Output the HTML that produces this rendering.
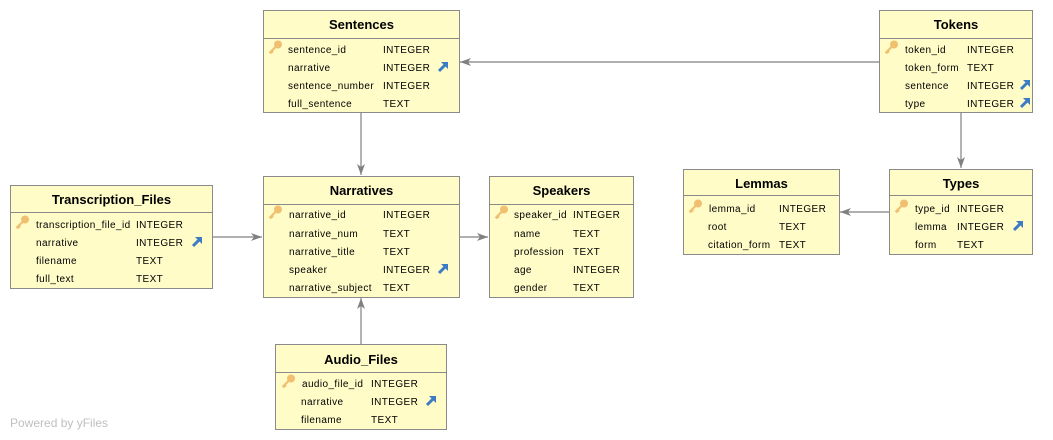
<!DOCTYPE html>
<html><head><meta charset="utf-8"><style>
body{margin:0;width:1053px;height:440px;background:#fff;position:relative;overflow:hidden;font-family:"Liberation Sans",sans-serif;}
.t{position:absolute;background:#fffcc8;border:1px solid #8a8a8a;box-sizing:border-box;}
.h{position:absolute;left:0;right:0;top:0;border-bottom:1px solid #8a8a8a;text-align:center;font-weight:bold;font-size:13px;color:#000;box-sizing:border-box;}
.r{position:absolute;font-size:10px;color:#000;white-space:nowrap;letter-spacing:0.4px;line-height:12px;margin-top:2px;}
.pw{position:absolute;left:10px;top:416px;font-size:12px;color:#c0c0c0;}
svg{z-index:2}
</style></head><body>

<div class="t" style="left:263px;top:10px;width:197px;height:103px"><div class="h" style="height:28px;line-height:28px">Sentences</div></div>
<div class="r" style="left:288px;top:43px">sentence_id</div><div class="r" style="left:383px;top:43px">INTEGER</div>
<div class="r" style="left:288px;top:61px">narrative</div><div class="r" style="left:383px;top:61px">INTEGER</div>
<div class="r" style="left:288px;top:79px">sentence_number</div><div class="r" style="left:383px;top:79px">INTEGER</div>
<div class="r" style="left:288px;top:97px">full_sentence</div><div class="r" style="left:383px;top:97px">TEXT</div>

<div class="t" style="left:879px;top:10px;width:154px;height:103px"><div class="h" style="height:28px;line-height:28px">Tokens</div></div>
<div class="r" style="left:905px;top:43px">token_id</div><div class="r" style="left:967px;top:43px">INTEGER</div>
<div class="r" style="left:905px;top:61px">token_form</div><div class="r" style="left:967px;top:61px">TEXT</div>
<div class="r" style="left:905px;top:79px">sentence</div><div class="r" style="left:967px;top:79px">INTEGER</div>
<div class="r" style="left:905px;top:97px">type</div><div class="r" style="left:967px;top:97px">INTEGER</div>

<div class="t" style="left:10px;top:185px;width:203px;height:104px"><div class="h" style="height:27px;line-height:27px">Transcription_Files</div></div>
<div class="r" style="left:36px;top:218px">transcription_file_id</div><div class="r" style="left:136px;top:218px">INTEGER</div>
<div class="r" style="left:36px;top:236px">narrative</div><div class="r" style="left:136px;top:236px">INTEGER</div>
<div class="r" style="left:36px;top:254px">filename</div><div class="r" style="left:136px;top:254px">TEXT</div>
<div class="r" style="left:36px;top:272px">full_text</div><div class="r" style="left:136px;top:272px">TEXT</div>

<div class="t" style="left:263px;top:176px;width:197px;height:122px"><div class="h" style="height:28px;line-height:28px">Narratives</div></div>
<div class="r" style="left:289px;top:208px">narrative_id</div><div class="r" style="left:383px;top:208px">INTEGER</div>
<div class="r" style="left:289px;top:227px">narrative_num</div><div class="r" style="left:383px;top:227px">TEXT</div>
<div class="r" style="left:289px;top:245px">narrative_title</div><div class="r" style="left:383px;top:245px">TEXT</div>
<div class="r" style="left:289px;top:263px">speaker</div><div class="r" style="left:383px;top:263px">INTEGER</div>
<div class="r" style="left:289px;top:281px">narrative_subject</div><div class="r" style="left:383px;top:281px">TEXT</div>

<div class="t" style="left:489px;top:176px;width:145px;height:122px"><div class="h" style="height:28px;line-height:28px">Speakers</div></div>
<div class="r" style="left:514px;top:208px">speaker_id</div><div class="r" style="left:573px;top:208px">INTEGER</div>
<div class="r" style="left:514px;top:227px">name</div><div class="r" style="left:573px;top:227px">TEXT</div>
<div class="r" style="left:514px;top:245px">profession</div><div class="r" style="left:573px;top:245px">TEXT</div>
<div class="r" style="left:514px;top:263px">age</div><div class="r" style="left:573px;top:263px">INTEGER</div>
<div class="r" style="left:514px;top:281px">gender</div><div class="r" style="left:573px;top:281px">TEXT</div>

<div class="t" style="left:683px;top:169px;width:157px;height:86px"><div class="h" style="height:26px;line-height:28px">Lemmas</div></div>
<div class="r" style="left:709px;top:202px">lemma_id</div><div class="r" style="left:779px;top:202px">INTEGER</div>
<div class="r" style="left:708px;top:220px">root</div><div class="r" style="left:779px;top:220px">TEXT</div>
<div class="r" style="left:708px;top:238px">citation_form</div><div class="r" style="left:779px;top:238px">TEXT</div>

<div class="t" style="left:889px;top:169px;width:144px;height:86px"><div class="h" style="height:26px;line-height:28px">Types</div></div>
<div class="r" style="left:915px;top:202px">type_id</div><div class="r" style="left:957px;top:202px">INTEGER</div>
<div class="r" style="left:915px;top:220px">lemma</div><div class="r" style="left:957px;top:220px">INTEGER</div>
<div class="r" style="left:915px;top:238px">form</div><div class="r" style="left:957px;top:238px">TEXT</div>

<div class="t" style="left:275px;top:344px;width:172px;height:86px"><div class="h" style="height:28px;line-height:29px">Audio_Files</div></div>
<div class="r" style="left:302px;top:377px">audio_file_id</div><div class="r" style="left:371px;top:377px">INTEGER</div>
<div class="r" style="left:301px;top:395px">narrative</div><div class="r" style="left:371px;top:395px">INTEGER</div>
<div class="r" style="left:301px;top:413px">filename</div><div class="r" style="left:371px;top:413px">TEXT</div>

<div class="pw">Powered by yFiles</div>

<svg width="1053" height="440" style="position:absolute;left:0;top:0">
<defs>
<g id="k"><circle cx="10" cy="4.5" r="4" fill="#f0c070"/><path d="M7.5 7 L1.5 13 M3.5 11 L5 12.5 M2.2 12.2 L3.5 13.5" stroke="#f0c070" stroke-width="2.2" fill="none"/></g>
<g id="f"><path d="M2 11 L8 5" stroke="#3d7bc4" stroke-width="3"/><path d="M4 2 L11 2 L11 9 Z" fill="#3d7bc4"/></g>
<marker id="a" markerWidth="12" markerHeight="10" refX="11" refY="5" orient="auto" markerUnits="userSpaceOnUse"><path d="M0 1 L11 5 L0 9 L3 5 Z" fill="#808080"/></marker>
</defs>
<g stroke="#808080" stroke-width="1.2" fill="none">
<line x1="879" y1="62" x2="460" y2="62" marker-end="url(#a)"/>
<line x1="361" y1="113" x2="361" y2="175" marker-end="url(#a)"/>
<line x1="213" y1="237" x2="262" y2="237" marker-end="url(#a)"/>
<line x1="460" y1="237" x2="488" y2="237" marker-end="url(#a)"/>
<line x1="361" y1="344" x2="361" y2="298" marker-end="url(#a)"/>
<line x1="961" y1="113" x2="961" y2="168" marker-end="url(#a)"/>
<line x1="889" y1="212" x2="840" y2="212" marker-end="url(#a)"/>
</g>
<use href="#k" x="268" y="40"/><use href="#f" x="437" y="60"/>
<use href="#k" x="884" y="40"/><use href="#f" x="1019" y="78"/><use href="#f" x="1019" y="96"/>
<use href="#k" x="15" y="215"/><use href="#f" x="191" y="235"/>
<use href="#k" x="268" y="205"/><use href="#f" x="437" y="262"/>
<use href="#k" x="494" y="205"/>
<use href="#k" x="688" y="199"/>
<use href="#k" x="894" y="199"/><use href="#f" x="1012" y="219"/>
<use href="#k" x="281" y="374"/><use href="#f" x="425" y="394"/>
</svg>
</body></html>
